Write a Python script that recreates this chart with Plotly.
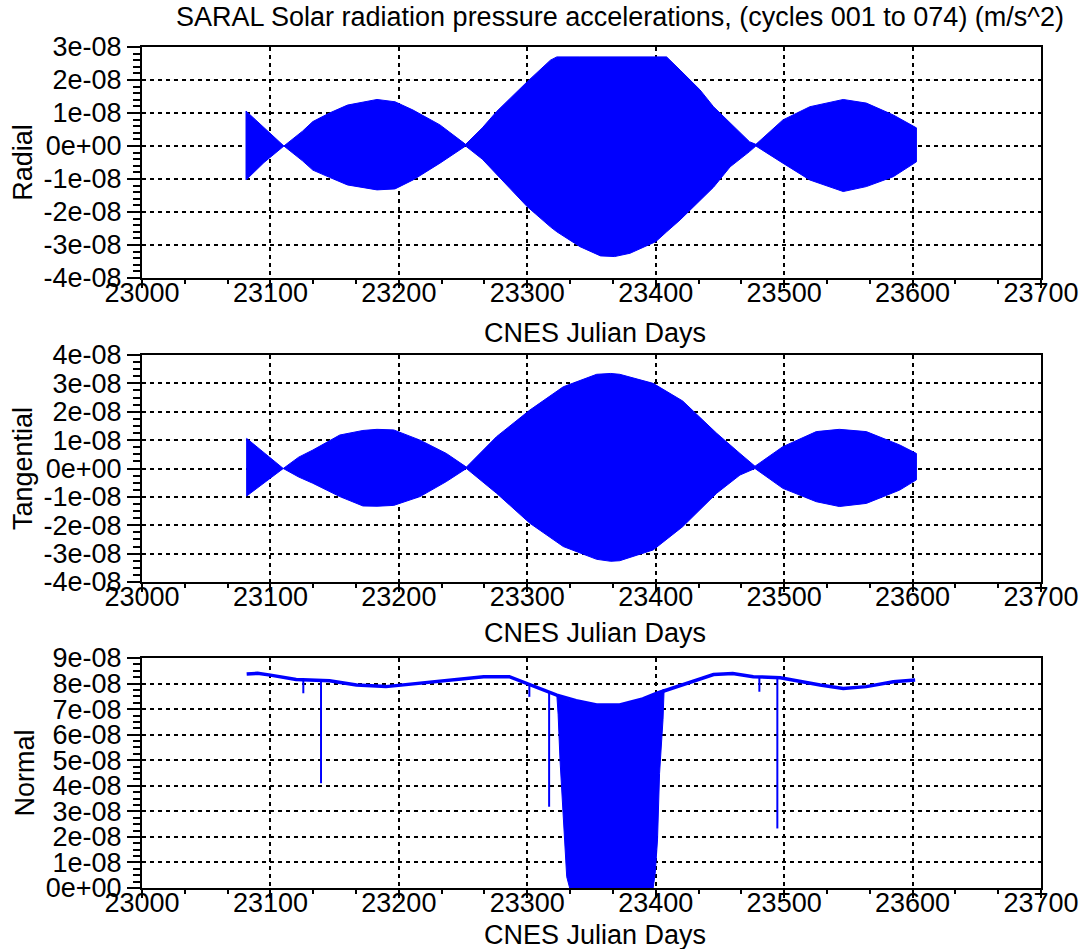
import plotly.graph_objects as go

# ---------------- data (accelerations in units of 1e-8 m/s^2) ----------------
SCALE = 1e-8

# Radial component: upper / lower envelope of the oscillating signal
radial_days = [23081, 23095, 23110.5, 23125, 23133, 23146, 23160, 23183, 23197,
               23211, 23232, 23252, 23265, 23276, 23300, 23318, 23323, 23341,
               23357, 23368, 23380, 23400, 23408.5, 23419, 23427, 23434.5, 23445,
               23458, 23473, 23478, 23490, 23499, 23520, 23546, 23564, 23585, 23603]
radial_upper = [1.06, 0.55, 0.0, 0.45, 0.74, 1.0, 1.24, 1.41, 1.34,
                1.09, 0.64, 0.05, 0.55, 1.04, 1.95, 2.6, 2.7, 2.7,
                2.7, 2.7, 2.7, 2.7, 2.7, 2.3, 2.0, 1.7, 1.19,
                0.7, 0.13, 0.05, 0.47, 0.79, 1.19, 1.41, 1.3, 0.94, 0.55]
radial_lower = [-1.03, -0.5, 0.0, -0.45, -0.73, -0.95, -1.18, -1.33, -1.3,
                -1.03, -0.52, 0.0, -0.4, -0.83, -1.84, -2.45, -2.6, -3.05,
                -3.33, -3.35, -3.25, -2.9, -2.6, -2.24, -1.95, -1.65, -1.25,
                -0.63, -0.17, 0.0, -0.3, -0.52, -1.03, -1.38, -1.23, -0.93, -0.48]

# Tangential component envelope
tangential_days = [23081.5, 23095, 23110, 23122, 23133, 23154, 23172, 23183, 23196,
                   23216.5, 23237, 23252.6, 23265, 23276, 23302, 23328, 23354, 23365,
                   23372, 23398, 23421, 23447.5, 23465.6, 23477.3, 23499, 23525,
                   23543, 23564, 23590, 23603]
tangential_upper = [1.06, 0.55, 0.0, 0.4, 0.65, 1.18, 1.34, 1.38, 1.36,
                    1.0, 0.53, 0.05, 0.6, 1.12, 2.06, 2.88, 3.32, 3.35,
                    3.32, 3.0, 2.38, 1.24, 0.53, 0.08, 0.77, 1.3,
                    1.38, 1.3, 0.83, 0.53]
tangential_lower = [-0.97, -0.5, 0.0, -0.3, -0.52, -0.99, -1.32, -1.33, -1.3,
                    -0.99, -0.46, 0.0, -0.45, -0.87, -1.93, -2.75, -3.2, -3.27,
                    -3.25, -2.87, -2.05, -0.87, -0.23, 0.0, -0.7, -1.17,
                    -1.34, -1.23, -0.76, -0.4]

# Normal component: nominal level
normal_days = [23081.5, 23090, 23100, 23120, 23146, 23167, 23190, 23214, 23237,
               23266, 23286, 23300, 23323, 23338, 23354, 23372, 23390, 23401,
               23424, 23445, 23460, 23476, 23497, 23528, 23546, 23564, 23585, 23602]
normal_values = [8.37, 8.4, 8.33, 8.16, 8.11, 7.94, 7.88, 8.0, 8.11,
                 8.27, 8.27, 8.0, 7.55, 7.33, 7.16, 7.16, 7.4, 7.62,
                 8.0, 8.35, 8.39, 8.27, 8.23, 7.94, 7.81, 7.88, 8.07, 8.14]

# Normal component during the eclipse season (signal drops toward zero)
eclipse_days = [23323, 23324, 23325.5, 23328, 23330.7, 23333, 23354, 23372,
                23390, 23398, 23399.6, 23401.4, 23403, 23405.7, 23406.5]
eclipse_top = [7.55, 7.5, 7.47, 7.42, 7.38, 7.35, 7.16, 7.16,
               7.4, 7.55, 7.58, 7.62, 7.68, 7.75, 7.78]
eclipse_bottom = [7.5, 6.8, 5.0, 2.79, 0.44, 0.0, 0.0, 0.0,
                  0.0, 0.0, 0.57, 1.88, 4.49, 6.6, 7.7]

# Isolated downward spikes on the normal component
spike_days = [23125.6, 23139.4, 23301.6, 23317, 23480.7, 23494.7]
spike_top = [8.16, 8.12, 8.0, 7.65, 8.27, 8.23]
spike_bottom = [7.62, 4.1, 7.48, 3.18, 7.68, 2.33]

# ---------------- axes ----------------
x_ticks = [23000, 23100, 23200, 23300, 23400, 23500, 23600, 23700]
x_ticklabels = ["23000", "23100", "23200", "23300", "23400", "23500", "23600", "23700"]

radial_ticks = [3, 2, 1, 0, -1, -2, -3, -4]
radial_ticklabels = ["3e-08", "2e-08", "1e-08", "0e+00", "-1e-08", "-2e-08", "-3e-08", "-4e-08"]
tangential_ticks = [4, 3, 2, 1, 0, -1, -2, -3, -4]
tangential_ticklabels = ["4e-08", "3e-08", "2e-08", "1e-08", "0e+00", "-1e-08", "-2e-08",
                         "-3e-08", "-4e-08"]
normal_ticks = [9, 8, 7, 6, 5, 4, 3, 2, 1, 0]
normal_ticklabels = ["9e-08", "8e-08", "7e-08", "6e-08", "5e-08", "4e-08", "3e-08",
                     "2e-08", "1e-08", "0e+00"]

BLUE = "#0000ff"
FONT = "Liberation Sans, Arial, sans-serif"
FS = 27


def scaled(vals):
    return [v * SCALE for v in vals]


def band(days, upper, lower):
    """Closed polygon between the upper and lower envelopes."""
    return (list(days) + list(days)[::-1] + [days[0]],
            scaled(list(upper) + list(lower)[::-1] + [upper[0]]))


fig = go.Figure()

# Radial
bx, by = band(radial_days, radial_upper, radial_lower)
fig.add_trace(go.Scatter(x=bx, y=by, fill="toself", fillcolor=BLUE, mode="lines",
                         line=dict(color=BLUE, width=1), xaxis="x", yaxis="y",
                         showlegend=False, hoverinfo="skip"))

# Tangential
bx, by = band(tangential_days, tangential_upper, tangential_lower)
fig.add_trace(go.Scatter(x=bx, y=by, fill="toself", fillcolor=BLUE, mode="lines",
                         line=dict(color=BLUE, width=1), xaxis="x2", yaxis="y2",
                         showlegend=False, hoverinfo="skip"))

# Normal: eclipse block, nominal line and spikes
bx, by = band(eclipse_days, eclipse_top, eclipse_bottom)
fig.add_trace(go.Scatter(x=bx, y=by, fill="toself", fillcolor=BLUE, mode="lines",
                         line=dict(color=BLUE, width=1), xaxis="x3", yaxis="y3",
                         showlegend=False, hoverinfo="skip"))
fig.add_trace(go.Scatter(x=normal_days, y=scaled(normal_values), mode="lines",
                         line=dict(color=BLUE, width=3.5), xaxis="x3", yaxis="y3",
                         showlegend=False))
sx, sy = [], []
for d, t, b in zip(spike_days, spike_top, spike_bottom):
    sx += [d, d, None]
    sy += [t * SCALE, b * SCALE, None]
fig.add_trace(go.Scatter(x=sx, y=sy, mode="lines", line=dict(color=BLUE, width=2),
                         xaxis="x3", yaxis="y3", showlegend=False))

# ---------------- layout ----------------
L, R, T, B = 142, 45, 47, 61
W, H = 1086, 949
plot_w = W - L - R
plot_h = H - T - B


def py(px):
    """Vertical pixel position (from top) to paper coordinate."""
    return (H - B - px) / plot_h


def px_x(px):
    return (px - L) / plot_w


def xaxis_cfg(anchor):
    return dict(
        range=[23000, 23700], tickvals=x_ticks, ticktext=x_ticklabels,
        ticks="outside", ticklen=8, tickwidth=2, tickcolor="black",
        showline=True, linewidth=2, linecolor="black", mirror=True,
        showgrid=True, gridcolor="black", gridwidth=1.5, griddash="4px,4px",
        zeroline=False, anchor=anchor, domain=[0, 1],
        tickfont=dict(family=FONT, size=FS, color="black"),
        ticklabelstandoff=-18,
        minor=dict(dtick=100 / 3, tick0=23000, ticks="outside", ticklen=4,
                   tickwidth=1.5, tickcolor="black", showgrid=False),
    )


def yaxis_cfg(anchor, domain, rng, tv, tt, minor_dt, title):
    return dict(
        range=rng, tickvals=[v * SCALE for v in tv], ticktext=tt,
        ticks="outside", ticklen=13, tickwidth=2, tickcolor="black",
        showline=True, linewidth=2, linecolor="black", mirror=True,
        showgrid=True, gridcolor="black", gridwidth=1.5, griddash="4px,4px",
        zeroline=False, anchor=anchor, domain=domain,
        tickfont=dict(family=FONT, size=FS, color="black"),
        minor=dict(dtick=minor_dt * SCALE, tick0=0, ticks="outside", ticklen=7,
                   tickwidth=1.5, tickcolor="black", showgrid=False),
        title=dict(text=title, font=dict(family=FONT, size=FS, color="black"),
                   standoff=3),
    )


# x-axis titles placed under each panel
x_title_rows = [333, 633, 935]
annotations = [
    dict(text="CNES Julian Days", x=px_x(595), y=py(row), xref="paper", yref="paper",
         xanchor="center", yanchor="middle", showarrow=False,
         font=dict(family=FONT, size=FS, color="black"))
    for row in x_title_rows
]

fig.update_layout(
    width=W, height=H,
    margin=dict(l=L, r=R, t=T, b=B, autoexpand=False),
    paper_bgcolor="white", plot_bgcolor="white",
    font=dict(family=FONT, size=FS, color="black"),
    title=dict(text="SARAL Solar radiation pressure accelerations, (cycles 001 to 074) (m/s^2)",
               x=px_x(620), xref="paper", xanchor="center",
               y=1 - 17 / H, yref="container", yanchor="middle",
               font=dict(family=FONT, size=FS, color="black")),
    xaxis=xaxis_cfg("y"),
    xaxis2=xaxis_cfg("y2"),
    xaxis3=xaxis_cfg("y3"),
    yaxis=yaxis_cfg("x", [py(278), py(47)], [-4 * SCALE, 3 * SCALE],
                    radial_ticks, radial_ticklabels, 0.2, "Radial"),
    yaxis2=yaxis_cfg("x2", [py(582), py(355)], [-4 * SCALE, 4 * SCALE],
                     tangential_ticks, tangential_ticklabels, 0.25, "Tangential"),
    yaxis3=yaxis_cfg("x3", [py(888), py(658)], [0, 9 * SCALE],
                     normal_ticks, normal_ticklabels, 0.25, "Normal"),
    annotations=annotations,
)

fig.write_html("out.html")
